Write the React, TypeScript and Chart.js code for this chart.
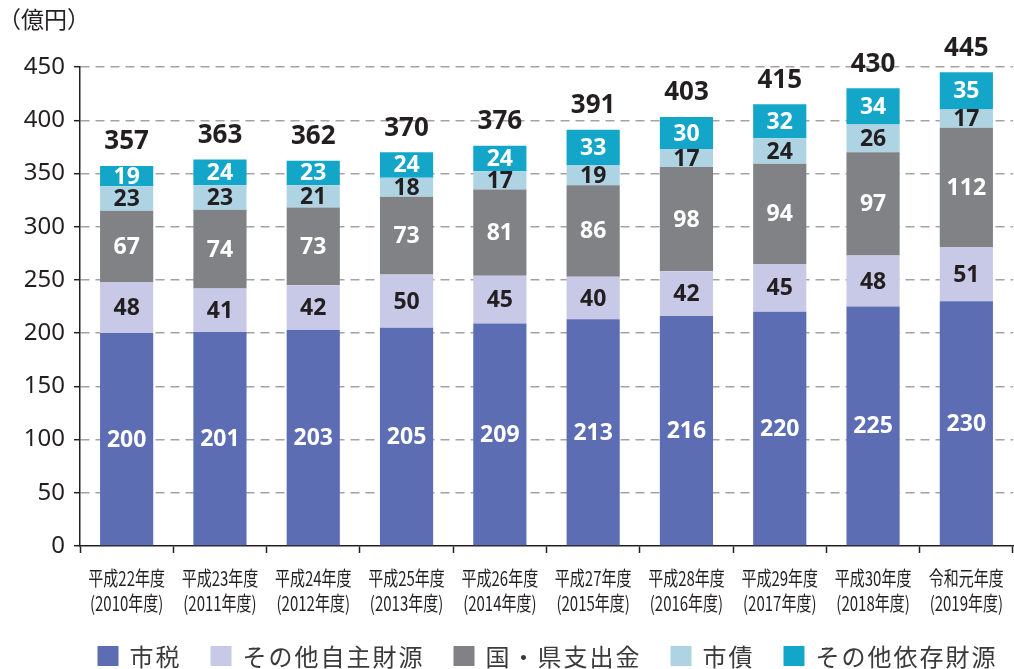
import React, { useEffect, useRef } from "react";
import { Chart, registerables } from "chart.js";

Chart.register(...registerables);

const eraLabels = ["平成22年度", "平成23年度", "平成24年度", "平成25年度", "平成26年度", "平成27年度", "平成28年度", "平成29年度", "平成30年度", "令和元年度"];
const yearLabels = ["(2010年度)", "(2011年度)", "(2012年度)", "(2013年度)", "(2014年度)", "(2015年度)", "(2016年度)", "(2017年度)", "(2018年度)", "(2019年度)"];

const cityTax = [200, 201, 203, 205, 209, 213, 216, 220, 225, 230];
const otherOwnRevenue = [48, 41, 42, 50, 45, 40, 42, 45, 48, 51];
const govSubsidies = [67, 74, 73, 73, 81, 86, 98, 94, 97, 112];
const cityBonds = [23, 23, 21, 18, 17, 19, 17, 24, 26, 17];
const otherDependent = [19, 24, 23, 24, 24, 33, 30, 32, 34, 35];
const totals = [357, 363, 362, 370, 376, 391, 403, 415, 430, 445];

const seriesNames = ["市税", "その他自主財源", "国・県支出金", "市債", "その他依存財源"];
const seriesData = [cityTax, otherOwnRevenue, govSubsidies, cityBonds, otherDependent];
const seriesColors = ["#5d6db4", "#c8c9e6", "#818285", "#aed4e3", "#13a6c8"];
const valueColors = ["#ffffff", "#231f20", "#ffffff", "#231f20", "#ffffff"];

const unitLabel = "（億円）";
const yMax = 450;
const yStep = 50;

const TEXT = "#231f20";
const NUM_FONT = '"Noto Sans", "Noto Sans CJK JP", sans-serif';
const JP_FONT = '"Noto Sans CJK JP", "Noto Sans", sans-serif';

const drawSpaced = (ctx: CanvasRenderingContext2D, text: string, x: number, y: number, spacing: number) => {
  let cx = x;
  for (const ch of Array.from(text)) {
    ctx.fillText(ch, cx, y);
    cx += ctx.measureText(ch).width + spacing;
  }
  return cx - x;
};
const measureSpaced = (ctx: CanvasRenderingContext2D, text: string, spacing: number) => {
  let w = 0;
  for (const ch of Array.from(text)) w += ctx.measureText(ch).width + spacing;
  return w - spacing;
};

const labelPlugin = {
  id: "customLabels",
  afterDatasetsDraw(chart: any) {
    const ctx: CanvasRenderingContext2D = chart.ctx;
    ctx.save();
    ctx.textAlign = "center";
    ctx.textBaseline = "middle";
    chart.data.datasets.forEach((ds: any, di: number) => {
      const meta = chart.getDatasetMeta(di);
      ctx.font = `bold 23px ${NUM_FONT}`;
      ctx.fillStyle = valueColors[di];
      meta.data.forEach((el: any, i: number) => {
        const p = el.getProps(["x", "y", "base"], true);
        ctx.fillText(String(ds.data[i]), p.x, (p.y + p.base) / 2 + 1);
      });
    });
    const last = chart.getDatasetMeta(chart.data.datasets.length - 1);
    ctx.font = `bold 26px ${NUM_FONT}`;
    ctx.fillStyle = TEXT;
    last.data.forEach((el: any, i: number) => {
      const p = el.getProps(["x", "y"], true);
      ctx.fillText(String(totals[i]), p.x, p.y - 24);
    });
    ctx.restore();
  },
  afterDraw(chart: any) {
    const ctx: CanvasRenderingContext2D = chart.ctx;
    const xScale = chart.scales.x;
    const area = chart.chartArea;
    ctx.save();
    // unit label
    ctx.font = `23px ${JP_FONT}`;
    ctx.fillStyle = TEXT;
    ctx.textAlign = "left";
    ctx.textBaseline = "middle";
    ctx.fillText(unitLabel, -2, 19);

    // x labels (condensed)
    ctx.font = `20px ${JP_FONT}`;
    ctx.textAlign = "center";
    eraLabels.forEach((lab, i) => {
      const x = xScale.getPixelForValue(i);
      ctx.save();
      ctx.translate(x, 578);
      ctx.scale(0.75, 1);
      ctx.fillText(lab, 0, 0);
      ctx.restore();
      ctx.save();
      ctx.translate(x, 603);
      ctx.scale(0.75, 1);
      ctx.fillText(yearLabels[i], 0, 0);
      ctx.restore();
    });

    // legend
    ctx.font = `24px ${JP_FONT}`;
    ctx.textAlign = "left";
    const box = 21;
    const boxGap = 11;
    const itemGap = 31;
    const spacing = 2;
    const widths = seriesNames.map((n) => box + boxGap + measureSpaced(ctx, n, spacing));
    const total = widths.reduce((a, b) => a + b, 0) + itemGap * (seriesNames.length - 1);
    let x = (area.left + area.right) / 2 - total / 2;
    const cy = 656;
    seriesNames.forEach((n, i) => {
      ctx.fillStyle = seriesColors[i];
      ctx.fillRect(x, cy - 10, box, 20);
      ctx.fillStyle = "#3a3a3a";
      drawSpaced(ctx, n, x + box + boxGap, cy + 1, spacing);
      x += widths[i] + itemGap;
    });
    ctx.restore();
  },
};

export default function App() {
  const ref = useRef<HTMLCanvasElement | null>(null);
  useEffect(() => {
    if (!ref.current) return;
    const chart = new Chart(ref.current, {
      type: "bar",
      data: {
        labels: eraLabels,
        datasets: seriesNames.map((name, i) => ({
          label: name,
          data: seriesData[i],
          backgroundColor: seriesColors[i],
          borderWidth: 0,
          barPercentage: 0.57,
          categoryPercentage: 1,
        })),
      },
      options: {
        animation: false,
        responsive: true,
        maintainAspectRatio: false,
        layout: { padding: { top: 67, right: 1, bottom: 0, left: 0 } },
        plugins: { legend: { display: false }, tooltip: { enabled: false }, title: { display: false } },
        scales: {
          x: {
            stacked: true,
            afterFit: (s: any) => { s.height = 123; },
            ticks: { display: false },
            grid: { drawOnChartArea: false, drawTicks: true, tickLength: 7, tickColor: TEXT, tickWidth: 1.5, offset: true },
            border: { display: true, color: TEXT, width: 1.5 },
          },
          y: {
            stacked: true,
            min: 0,
            max: yMax,
            afterFit: (s: any) => { s.width = 80; },
            ticks: { stepSize: yStep, color: TEXT, font: { size: 24, family: NUM_FONT }, padding: 9 },
            grid: {
              color: (c: any) => (c.tick && c.tick.value === 0 ? "rgba(0,0,0,0)" : "#a3a3a3"),
              lineWidth: 1.4,
              tickLength: 6,
              tickColor: TEXT,
              tickWidth: 1.5,
            },
            border: { display: true, color: TEXT, width: 1.5, dash: [9, 6] },
          },
        },
      },
      plugins: [labelPlugin],
    } as any);
    return () => chart.destroy();
  }, []);
  return (
    <div style={{ position: "fixed", left: 0, top: 0, width: 1014, height: 669, background: "#fff" }}>
      <canvas ref={ref} />
    </div>
  );
}
